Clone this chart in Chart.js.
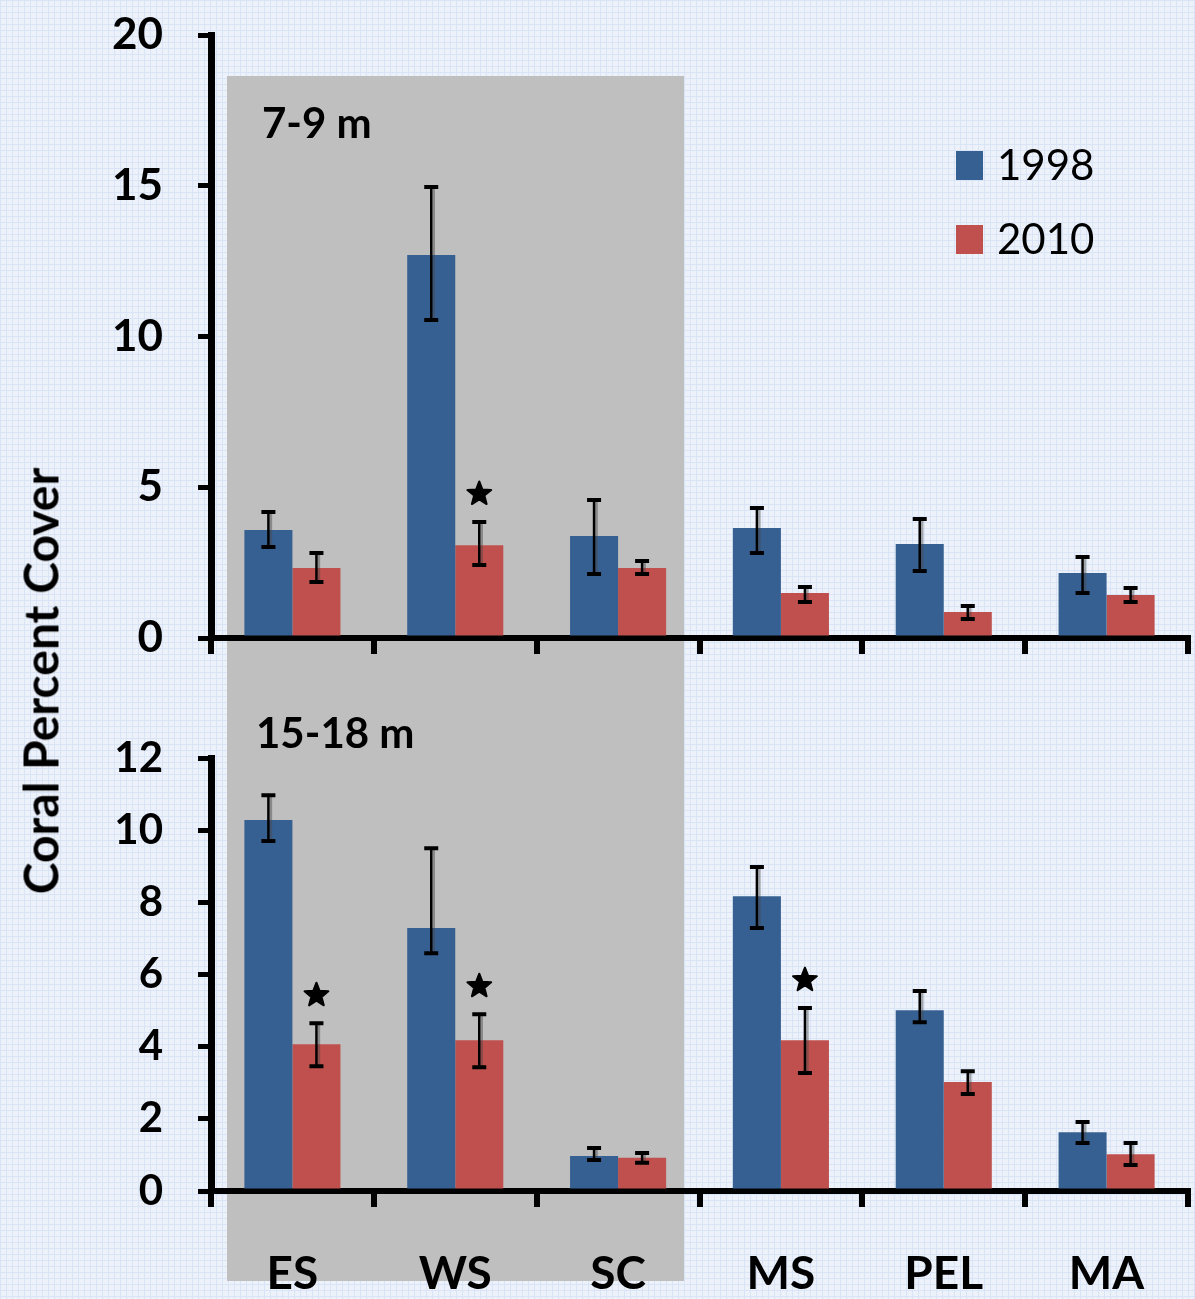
<!DOCTYPE html>
<html>
<head>
<meta charset="utf-8">
<script src="https://cdn.jsdelivr.net/npm/chart.js@4/dist/chart.umd.min.js"></script>
<style>
  html, body { margin: 0; padding: 0; }
  body {
    width: 1195px; height: 1299px; position: relative; overflow: hidden;
    background-color: #edf2fa;
    background-image:
      linear-gradient(#d9e5f6 1px, transparent 1px),
      linear-gradient(90deg, #d9e5f6 1px, transparent 1px);
    background-size: 6px 6px;
    font-family: Lato, "Open Sans", sans-serif;
  }
  #band { position: absolute; left: 227px; top: 76px; width: 457px; height: 1205px; background: #bfbfbf; }
  #topChart { position: absolute; left: 0; top: 0; }
  #bottomChart { position: absolute; left: 0; top: 700px; }
  #ytitle {
    position: absolute; left: 40px; top: 681px;
    transform: translate(-50%, -50%) rotate(-90deg);
    white-space: nowrap; font-weight: bold; font-size: 48px; color: #000;
  }
</style>
</head>
<body>
<div id="band"></div>
<canvas id="topChart" width="1195" height="700"></canvas>
<canvas id="bottomChart" width="1195" height="599"></canvas>
<div id="ytitle">Coral Percent Cover</div>
<script>
// Sites along the reef
const sites = ['ES', 'WS', 'SC', 'MS', 'PEL', 'MA'];
const seriesNames = ['1998', '2010'];

// Shallow reef (7-9 m): mean coral cover and error bar extents
const shallow1998 = [3.58, 12.70, 3.38, 3.65, 3.12, 2.16];
const shallow1998Up = [0.60, 2.26, 1.20, 0.66, 0.83, 0.53];
const shallow1998Down = [0.56, 2.15, 1.26, 0.83, 0.90, 0.67];
const shallow2010 = [2.32, 3.08, 2.32, 1.49, 0.86, 1.43];
const shallow2010Up = [0.50, 0.77, 0.23, 0.20, 0.20, 0.23];
const shallow2010Down = [0.46, 0.66, 0.20, 0.30, 0.23, 0.24];
const shallowSignif2010 = [false, true, false, false, false, false];

// Deep reef (15-18 m)
const deep1998 = [10.28, 7.29, 0.97, 8.17, 5.01, 1.63];
const deep1998Up = [0.69, 2.21, 0.22, 0.81, 0.53, 0.28];
const deep1998Down = [0.58, 0.70, 0.11, 0.88, 0.33, 0.30];
const deep2010 = [4.07, 4.18, 0.92, 4.18, 3.02, 1.02];
const deep2010Up = [0.58, 0.72, 0.13, 0.89, 0.30, 0.31];
const deep2010Down = [0.61, 0.75, 0.14, 0.91, 0.33, 0.30];
const deepSignif2010 = [true, true, false, true, false, false];

// Y axis ranges
const shallowAxis = { min: 0, max: 20, step: 5 };
const deepAxis = { min: 0, max: 12, step: 2 };

const COLORS = ['#376092', '#c0504d'];
const FONT = 'Lato, "Open Sans", sans-serif';

// Draws error bars and significance stars over each bar
const errorBarPlugin = {
  id: 'errorBars',
  afterDatasetsDraw(chart, args, opts) {
    const ctx = chart.ctx;
    const y = chart.scales.y;
    chart.data.datasets.forEach((ds, di) => {
      const meta = chart.getDatasetMeta(di);
      meta.data.forEach((bar, i) => {
        const v = ds.data[i];
        const yTop = y.getPixelForValue(v + ds.errUp[i]);
        const yBot = y.getPixelForValue(v - ds.errDown[i]);
        const x = bar.x;
        ctx.save();
        // soft shadow beside the whisker
        ctx.strokeStyle = 'rgba(70,70,70,0.45)';
        ctx.lineWidth = 2.5;
        ctx.beginPath(); ctx.moveTo(x + 2.5, yTop); ctx.lineTo(x + 2.5, yBot); ctx.stroke();
        ctx.strokeStyle = '#000';
        ctx.lineWidth = 2.5;
        ctx.beginPath(); ctx.moveTo(x, yTop); ctx.lineTo(x, yBot); ctx.stroke();
        ctx.lineWidth = 4;
        ctx.beginPath();
        ctx.moveTo(x - 7, yTop); ctx.lineTo(x + 7, yTop);
        ctx.moveTo(x - 7, yBot); ctx.lineTo(x + 7, yBot);
        ctx.stroke();
        if (ds.signif && ds.signif[i]) {
          const cx = x, cy = yTop - 28, R = 12.5, r = 5.4;
          ctx.beginPath();
          for (let k = 0; k < 10; k++) {
            const ang = -Math.PI / 2 + k * Math.PI / 5;
            const rad = k % 2 === 0 ? R : r;
            const px = cx + rad * Math.cos(ang), py = cy + rad * Math.sin(ang);
            k === 0 ? ctx.moveTo(px, py) : ctx.lineTo(px, py);
          }
          ctx.closePath();
          ctx.fillStyle = '#000';
          ctx.lineJoin = 'round';
          ctx.lineWidth = 2;
          ctx.fill(); ctx.stroke();
        }
        ctx.restore();
      });
    });
  }
};

// Panel caption and optional legend
const annotationPlugin = {
  id: 'panelNotes',
  afterDraw(chart, args, opts) {
    const ctx = chart.ctx;
    ctx.save();
    ctx.fillStyle = '#000';
    ctx.textBaseline = 'middle';
    ctx.textAlign = 'left';
    ctx.font = 'bold 42px ' + FONT;
    ctx.fillText(opts.caption, opts.captionX, opts.captionY);
    if (opts.legend) {
      ctx.font = '42px ' + FONT;
      chart.data.datasets.forEach((ds, i) => {
        const yc = opts.legendY + i * 74;
        ctx.fillStyle = ds.backgroundColor;
        ctx.fillRect(opts.legendX, yc - 14, 27, 29);
        ctx.fillStyle = '#000';
        ctx.fillText(ds.label, opts.legendX + 41, yc + 1);
      });
    }
    ctx.restore();
  }
};

function makeChart(canvasId, s98, s98u, s98d, s10, s10u, s10d, sig10, axis, cfg) {
  return new Chart(document.getElementById(canvasId), {
    type: 'bar',
    data: {
      labels: sites,
      datasets: [
        { label: seriesNames[0], data: s98, errUp: s98u, errDown: s98d, backgroundColor: COLORS[0] },
        { label: seriesNames[1], data: s10, errUp: s10u, errDown: s10d, signif: sig10, backgroundColor: COLORS[1] }
      ]
    },
    options: {
      responsive: false,
      animation: false,
      devicePixelRatio: 1,
      layout: { padding: { left: 0, right: 7, top: cfg.padTop, bottom: cfg.padBottom } },
      datasets: { bar: { categoryPercentage: 0.59, barPercentage: 1.0 } },
      plugins: {
        legend: { display: false },
        tooltip: { enabled: false },
        panelNotes: cfg.notes
      },
      scales: {
        x: {
          offset: true,
          grid: { offset: true, drawOnChartArea: false, drawTicks: true, tickLength: 16, lineWidth: 6, color: '#000' },
          border: { display: true, width: 6, color: '#000' },
          ticks: {
            display: cfg.showLabels,
            color: '#000',
            padding: 40,
            font: { family: FONT, weight: 'bold', size: 46 }
          },
          afterFit(s) { s.height = cfg.xHeight; s.paddingLeft = 0; s.paddingRight = 0; }
        },
        y: {
          min: axis.min, max: axis.max,
          grid: { drawOnChartArea: false, drawTicks: true, tickLength: 13, lineWidth: 5, color: '#000' },
          border: { display: true, width: 7, color: '#000' },
          ticks: {
            stepSize: axis.step,
            color: '#000',
            padding: 35,
            font: { family: FONT, weight: 'bold', size: cfg.yFont }
          },
          afterFit(s) { s.width = 211; s.paddingTop = 0; s.paddingBottom = 0; }
        }
      }
    },
    plugins: [errorBarPlugin, annotationPlugin]
  });
}

function build() {
  makeChart('topChart', shallow1998, shallow1998Up, shallow1998Down,
    shallow2010, shallow2010Up, shallow2010Down, shallowSignif2010, shallowAxis, {
      padTop: 35, padBottom: 42, xHeight: 20, showLabels: false, yFont: 44,
      notes: { caption: '7-9 m', captionX: 262, captionY: 124, legend: true, legendX: 956, legendY: 165 }
    });
  makeChart('bottomChart', deep1998, deep1998Up, deep1998Down,
    deep2010, deep2010Up, deep2010Down, deepSignif2010, deepAxis, {
      padTop: 58, padBottom: 8, xHeight: 100, showLabels: true, yFont: 42,
      notes: { caption: '15-18 m', captionX: 256, captionY: 34, legend: false }
    });
}
if (document.fonts && document.fonts.load) {
  Promise.all([
    document.fonts.load('bold 42px Lato'),
    document.fonts.load('42px Lato')
  ]).then(build, build);
} else {
  build();
}
</script>
</body>
</html>
